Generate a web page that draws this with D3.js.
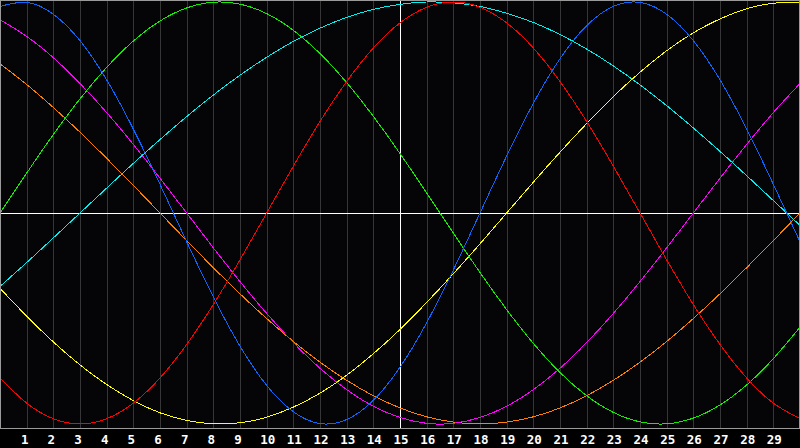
<!DOCTYPE html>
<html>
<head>
<style>
    body { margin: 0; background: #000; }
    svg { display: block; }
</style>
</head>
<body>
    <script src="https://cdn.jsdelivr.net/npm/d3@7"></script>
    <script type="text/javascript">
        // days shown along the bottom
        var days = d3.range(0, 31);
        var tickDays = d3.range(1, 30);
        var todayDay = 15;

        // values, one per day (0..30), -1..1
        var physical = [0.979, 0.998, 0.942, 0.817, 0.631, 0.398, 0.136, -0.136, -0.398, -0.631, -0.817, -0.942, -0.998, -0.979, -0.888, -0.731, -0.520, -0.270, 0, 0.270, 0.520, 0.731, 0.888, 0.979, 0.998, 0.942, 0.817, 0.631, 0.398, 0.136, -0.136];
        var emotional = [-0.782, -0.901, -0.975, -1, -0.975, -0.901, -0.782, -0.623, -0.434, -0.222, 0, 0.222, 0.434, 0.623, 0.782, 0.901, 0.975, 1, 0.975, 0.901, 0.782, 0.623, 0.434, 0.222, 0, -0.222, -0.434, -0.623, -0.782, -0.901, -0.975];
        var intellectual = [0, 0.189, 0.372, 0.541, 0.690, 0.815, 0.910, 0.972, 0.999, 0.990, 0.945, 0.866, 0.756, 0.618, 0.458, 0.282, 0.095, -0.095, -0.282, -0.458, -0.618, -0.756, -0.866, -0.945, -0.990, -0.999, -0.972, -0.910, -0.815, -0.690, -0.541];
        var intuitive = [0.916, 0.837, 0.736, 0.614, 0.476, 0.325, 0.165, 0, -0.165, -0.325, -0.476, -0.614, -0.736, -0.837, -0.916, -0.969, -0.997, -0.997, -0.969, -0.916, -0.837, -0.736, -0.614, -0.476, -0.325, -0.165, 0, 0.165, 0.325, 0.476, 0.614];
        var aesthetic = [-0.357, -0.489, -0.611, -0.720, -0.813, -0.889, -0.947, -0.983, -0.999, -0.994, -0.968, -0.920, -0.854, -0.769, -0.667, -0.552, -0.424, -0.288, -0.146, 0, 0.146, 0.288, 0.424, 0.552, 0.667, 0.769, 0.854, 0.920, 0.968, 0.994, 0.999];
        var awareness = [0.707, 0.609, 0.5, 0.383, 0.259, 0.131, 0, -0.131, -0.259, -0.383, -0.5, -0.609, -0.707, -0.793, -0.866, -0.924, -0.966, -0.991, -1, -0.991, -0.966, -0.924, -0.866, -0.793, -0.707, -0.609, -0.5, -0.383, -0.259, -0.131, 0];
        var spiritual = [-0.348, -0.235, -0.118, 0, 0.118, 0.235, 0.348, 0.457, 0.559, 0.653, 0.738, 0.813, 0.876, 0.927, 0.965, 0.989, 1, 0.996, 0.979, 0.947, 0.903, 0.846, 0.777, 0.697, 0.607, 0.509, 0.403, 0.292, 0.177, 0.059, -0.059];

        var seriesNames = ['awareness', 'intuitive', 'aesthetic', 'spiritual', 'intellectual', 'emotional', 'physical'];
        var seriesValues = [awareness, intuitive, aesthetic, spiritual, intellectual, emotional, physical];
        var seriesColors = ['#ff8000', '#ff00ff', '#ffff00', '#00f0f0', '#11ee00', '#ff0000', '#0a66ff'];

        var svgWidth = 800,
            svgHeight = 448,
            plotBottom = 428;

        var svg = d3.select('body')
            .append('svg')
            .attr('width', svgWidth)
            .attr('height', svgHeight);

        svg.append('rect')
            .attr('width', svgWidth)
            .attr('height', svgHeight)
            .attr('fill', '#000');

        svg.append('rect')
            .attr('width', svgWidth)
            .attr('height', plotBottom)
            .attr('fill', '#050508');

        var x = d3.scaleLinear().domain([0, 30]).range([0, 800]);
        var y = d3.scaleLinear().domain([-1, 1]).range([424, 2]);

        // vertical day grid
        svg.append('g')
            .selectAll('line')
            .data(tickDays)
            .enter()
            .append('line')
            .attr('x1', function (d) { return Math.round(x(d)) + 0.5; })
            .attr('x2', function (d) { return Math.round(x(d)) + 0.5; })
            .attr('y1', 0)
            .attr('y2', plotBottom)
            .attr('stroke', '#363636')
            .attr('stroke-width', 1);

        // zero line and today marker
        svg.append('line')
            .attr('x1', 0).attr('x2', svgWidth)
            .attr('y1', Math.round(y(0)) + 0.5).attr('y2', Math.round(y(0)) + 0.5)
            .attr('stroke', '#ffffff');
        svg.append('line')
            .attr('x1', Math.round(x(todayDay)) + 0.5).attr('x2', Math.round(x(todayDay)) + 0.5)
            .attr('y1', 0).attr('y2', plotBottom)
            .attr('stroke', '#ffffff');

        var line = d3.line()
            .x(function (d, i) { return x(days[i]); })
            .y(function (d) { return y(d); })
            .curve(d3.curveNatural);

        svg.append('g')
            .selectAll('path')
            .data(seriesValues)
            .enter()
            .append('path')
            .attr('class', function (d, i) { return seriesNames[i]; })
            .attr('d', line)
            .attr('fill', 'none')
            .attr('stroke', function (d, i) { return seriesColors[i]; })
            .attr('stroke-width', 1)
            .attr('shape-rendering', 'crispEdges');

        // frame
        svg.append('rect')
            .attr('x', 0.5).attr('y', 0.5)
            .attr('width', svgWidth - 1).attr('height', plotBottom)
            .attr('fill', 'none')
            .attr('stroke', '#9a9a9a');

        // day labels
        svg.append('g')
            .selectAll('text')
            .data(tickDays)
            .enter()
            .append('text')
            .attr('x', function (d) { return x(d) + (d < 10 ? -2 : 1); })
            .attr('y', 444)
            .attr('text-anchor', 'middle')
            .attr('fill', '#ffffff')
            .style('font-family', '"DejaVu Sans Mono", monospace')
            .style('font-weight', 'bold')
            .style('font-size', '12.5px')
            .text(function (d) { return d; });
    </script>
</body>
</html>
